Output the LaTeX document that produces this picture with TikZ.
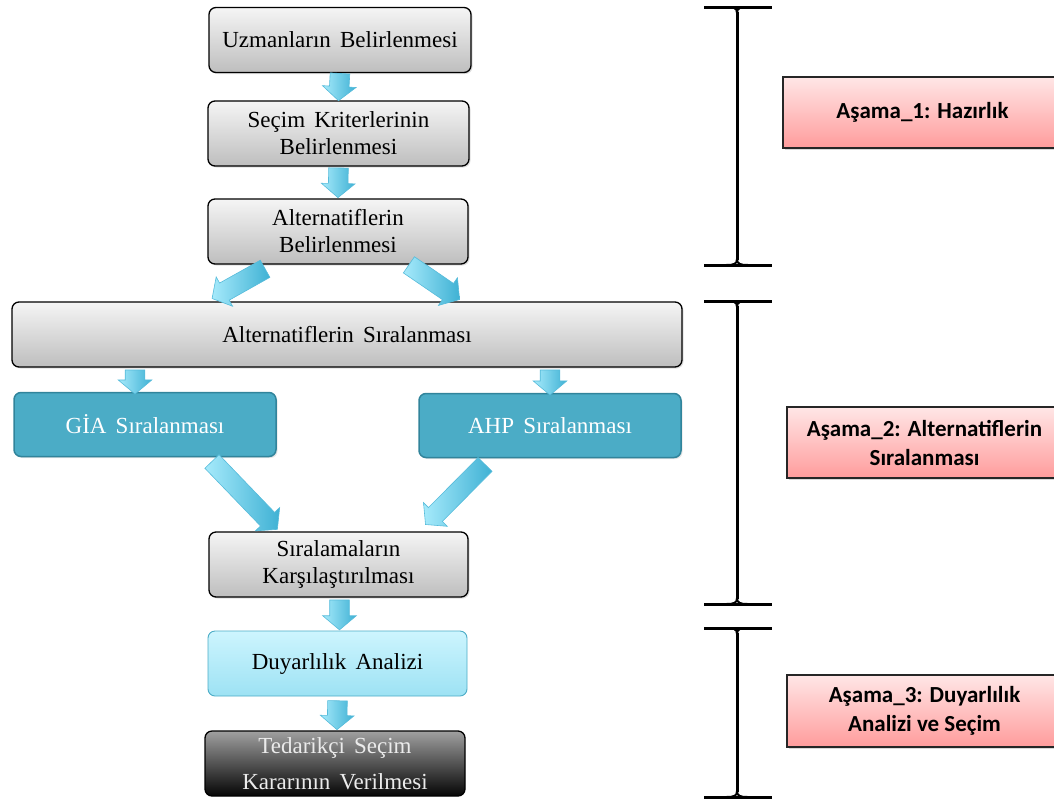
\documentclass[tikz,border=0pt]{standalone}
\usepackage{fontspec}
\setmainfont{Liberation Serif}[WordSpace=1.6]
\newfontfamily\stagefont{Carlito}
\usepackage{tikz}
\usetikzlibrary{shapes.arrows, calc, shadows, positioning}

\definecolor{graytop}{HTML}{F5F5F5}
\definecolor{graybot}{HTML}{BEBEBE}
\definecolor{tealfill}{HTML}{4BACC6}
\definecolor{tealedge}{HTML}{31849B}
\definecolor{cyantop}{HTML}{CDF5FE}
\definecolor{cyanbot}{HTML}{9DE2F4}
\definecolor{darktop}{HTML}{A0A0A0}
\definecolor{darkbot}{HTML}{050505}
\definecolor{pinktop}{HTML}{FFE6E6}
\definecolor{pinkbot}{HTML}{FF9C9C}
\definecolor{arrowlight}{HTML}{A6EAFB}
\definecolor{arrowdark}{HTML}{3FB1D4}
\definecolor{arrowedge}{HTML}{56BBDA}

% block arrow from #1 (tail) to #2 (tip)
\newcommand{\flowarrow}[2]{%
  \path let \p1=($(#2)-(#1)$), \n1={atan2(\y1,\x1)}, \n2={veclen(\x1,\y1)} in
    node[flowarr, minimum height=\n2, rotate=\n1, anchor=tail] at (#1) {};}

% stage bracket between two heights
\newcommand{\phasebar}[2]{%
  \draw[phaseline] (704,#1) -- (772,#1) (704,#2) -- (772,#2) (737,#1+5) -- (737,#2-5);
  \draw[phaseline, line width=2pt] (726,#1) .. controls (734,#1) and (737,#1+1) .. (737,#1+6)
    .. controls (737,#1+1) and (740,#1) .. (748,#1);
  \draw[phaseline, line width=2pt] (726,#2) .. controls (734,#2) and (737,#2-1) .. (737,#2-6)
    .. controls (737,#2-1) and (740,#2) .. (748,#2);}

\begin{document}
\begin{tikzpicture}[x=1pt, y=-1pt,
    every node/.style={inner sep=0pt, align=center},
    serif/.style={font=\fontsize{23}{27}\selectfont},
    graybox/.style={serif, rectangle, rounded corners=7pt, draw=black, line width=1.3pt,
      top color=graytop, bottom color=graybot, minimum height=65pt,
      drop shadow={opacity=0.25, shadow xshift=1.5pt, shadow yshift=-1.5pt}},
    tealbox/.style={serif, rectangle, rounded corners=7pt, draw=tealedge, line width=1.5pt,
      fill=tealfill, text=white, minimum height=64pt,
      drop shadow={opacity=0.2, shadow xshift=1.5pt, shadow yshift=-1.5pt}},
    cyanbox/.style={serif, rectangle, rounded corners=7pt, draw=tealfill, line width=0.9pt,
      top color=cyantop, bottom color=cyanbot, minimum height=65pt},
    darkbox/.style={serif, rectangle, rounded corners=7pt, draw=black, line width=1.3pt,
      top color=darktop, bottom color=darkbot, text=white!92!black, minimum height=65pt},
    stagebox/.style={rectangle, draw=black!85, line width=1.2pt, top color=pinktop,
      bottom color=pinkbot, font=\stagefont\bfseries\fontsize{23}{29}\selectfont,
      drop shadow={opacity=0.3, shadow xshift=1.5pt, shadow yshift=-2pt}},
    flowarr/.style={single arrow, draw=arrowedge, line width=0.6pt, left color=arrowlight,
      right color=arrowdark, inner xsep=0pt, inner ysep=9.5pt, minimum width=0pt,
      single arrow head extend=7pt, single arrow tip angle=100},
    phaseline/.style={draw=black, line width=3pt}]

  \useasboundingbox (0,0) rectangle (1054,798);

  % flow boxes
  \node[graybox, minimum width=262pt] (uzm) at (340,40) {Uzmanların Belirlenmesi};
  \node[graybox, minimum width=261pt] (kri) at (338.5,133.5) {Seçim Kriterlerinin\\Belirlenmesi};
  \node[graybox, minimum width=260pt] (altb) at (338,231.5) {Alternatiflerin\\Belirlenmesi};
  \node[graybox, minimum width=670pt] (sira) at (347,334.5) {Alternatiflerin Sıralanması};
  \node[tealbox, minimum width=262pt] (gia) at (145,424.5) {GİA Sıralanması};
  \node[tealbox, minimum width=262pt] (ahp) at (550,425.5) {AHP Sıralanması};
  \node[graybox, minimum width=259pt] (kars) at (338.5,564.5) {Sıralamaların\\Karşılaştırılması};
  \node[cyanbox, minimum width=259pt] (duy) at (337.5,663.5) {Duyarlılık Analizi};
  \node[darkbox, minimum width=260pt] (ted) at (335,763.5) {Tedarikçi Seçim\\[9pt]Kararının Verilmesi};

  % stage labels
  \node[stagebox, minimum width=279pt, minimum height=71pt] (st1) at (922.5,112.5) {Aşama\_1: Hazırlık};
  \node[stagebox, minimum width=275pt, minimum height=71pt] (st2) at (924.5,442.5) {Aşama\_2: Alternatiflerin\\Sıralanması};
  \node[stagebox, minimum width=275pt, minimum height=72pt] (st3) at (924.5,711) {Aşama\_3: Duyarlılık\\Analizi ve Seçim};

  % arrows
  \flowarrow{uzm.south}{kri.north}
  \flowarrow{$(kri.south)+(0,1)$}{$(altb.north)+(0,-1)$}
  \coordinate (a3t) at ($(altb.south west)+(58,4)$);
  \coordinate (a3h) at ($(sira.north west)+(201,-3)$);
  \flowarrow{a3t}{a3h}
  \coordinate (a4t) at ($(altb.south east)+(-60,0)$);
  \coordinate (a4h) at ($(sira.north west)+(448,-2)$);
  \flowarrow{a4t}{a4h}
  \coordinate (a5t) at ($(sira.south -| gia.north)+(-10,2)$);
  \coordinate (a5h) at ($(gia.north)+(-10,2)$);
  \flowarrow{a5t}{a5h}
  \coordinate (a6t) at ($(sira.south -| ahp.north)+(0,2)$);
  \coordinate (a6h) at ($(ahp.north)+(0,2)$);
  \flowarrow{a6t}{a6h}
  \coordinate (a7t) at ($(gia.south east)+(-65,4)$);
  \coordinate (a7h) at ($(kars.north west)+(69,-2)$);
  \flowarrow{a7t}{a7h}
  \coordinate (a8t) at ($(ahp.south west)+(67,6)$);
  \coordinate (a8h) at ($(kars.north east)+(-43,-7)$);
  \flowarrow{a8t}{a8h}
  \flowarrow{$(kars.south)+(1,2)$}{$(duy.north)+(2,-1)$}
  \flowarrow{$(duy.south)+(0,4)$}{$(ted.north)+(2,-1)$}

  % stage brackets
  \phasebar{7}{265}
  \phasebar{301}{604}
  \phasebar{628}{797}
\end{tikzpicture}
\end{document}
